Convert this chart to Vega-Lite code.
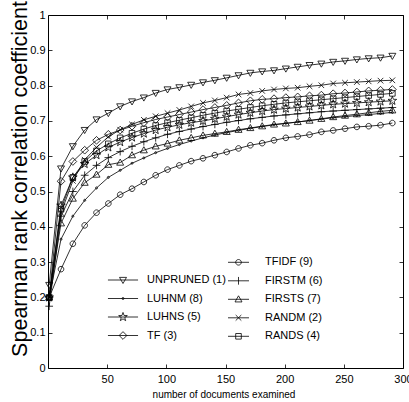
{
"$schema":"https://vega.github.io/schema/vega-lite/v6.json",
"width":355,"height":353,
"autosize":{"type":"none"},
"padding":{"left":48,"top":15,"right":6,"bottom":34},
"background":"white",
"config":{
 "view":{"stroke":"black","strokeWidth":1},
 "font":"Liberation Sans",
 "axis":{"grid":false,"domain":false,"labelFont":"Liberation Sans","labelFontSize":11,"labelColor":"black","tickColor":"black","tickWidth":0.8,"titleColor":"black","titleFont":"Liberation Sans","titleFontWeight":"normal","tickSize":-4},
 "legend":{"padding":0,"labelFont":"Liberation Sans","labelFontSize":11,"labelColor":"black","symbolSize":49,"symbolStrokeWidth":0.8,"rowPadding":6.5}
},
"datasets":{"d":[
{"s":"UNPRUNED (1)","g":"A","x":1,"y":0.235},{"s":"UNPRUNED (1)","g":"A","x":11,"y":0.565},{"s":"UNPRUNED (1)","g":"A","x":21,"y":0.628},{"s":"UNPRUNED (1)","g":"A","x":31,"y":0.674},{"s":"UNPRUNED (1)","g":"A","x":41,"y":0.704},{"s":"UNPRUNED (1)","g":"A","x":51,"y":0.722},{"s":"UNPRUNED (1)","g":"A","x":61,"y":0.741},{"s":"UNPRUNED (1)","g":"A","x":71,"y":0.755},{"s":"UNPRUNED (1)","g":"A","x":81,"y":0.766},{"s":"UNPRUNED (1)","g":"A","x":91,"y":0.779},{"s":"UNPRUNED (1)","g":"A","x":101,"y":0.789},{"s":"UNPRUNED (1)","g":"A","x":111,"y":0.795},{"s":"UNPRUNED (1)","g":"A","x":121,"y":0.802},{"s":"UNPRUNED (1)","g":"A","x":131,"y":0.809},{"s":"UNPRUNED (1)","g":"A","x":141,"y":0.815},{"s":"UNPRUNED (1)","g":"A","x":151,"y":0.822},{"s":"UNPRUNED (1)","g":"A","x":161,"y":0.829},{"s":"UNPRUNED (1)","g":"A","x":171,"y":0.836},{"s":"UNPRUNED (1)","g":"A","x":181,"y":0.840},{"s":"UNPRUNED (1)","g":"A","x":191,"y":0.843},{"s":"UNPRUNED (1)","g":"A","x":201,"y":0.848},{"s":"UNPRUNED (1)","g":"A","x":211,"y":0.853},{"s":"UNPRUNED (1)","g":"A","x":221,"y":0.858},{"s":"UNPRUNED (1)","g":"A","x":231,"y":0.862},{"s":"UNPRUNED (1)","g":"A","x":241,"y":0.867},{"s":"UNPRUNED (1)","g":"A","x":251,"y":0.870},{"s":"UNPRUNED (1)","g":"A","x":261,"y":0.874},{"s":"UNPRUNED (1)","g":"A","x":271,"y":0.877},{"s":"UNPRUNED (1)","g":"A","x":281,"y":0.879},{"s":"UNPRUNED (1)","g":"A","x":291,"y":0.884},
{"s":"LUHNM (8)","g":"A","x":1,"y":0.2},{"s":"LUHNM (8)","g":"A","x":11,"y":0.365},{"s":"LUHNM (8)","g":"A","x":21,"y":0.43},{"s":"LUHNM (8)","g":"A","x":31,"y":0.475},{"s":"LUHNM (8)","g":"A","x":41,"y":0.51},{"s":"LUHNM (8)","g":"A","x":51,"y":0.54},{"s":"LUHNM (8)","g":"A","x":61,"y":0.56},{"s":"LUHNM (8)","g":"A","x":71,"y":0.58},{"s":"LUHNM (8)","g":"A","x":81,"y":0.595},{"s":"LUHNM (8)","g":"A","x":91,"y":0.61},{"s":"LUHNM (8)","g":"A","x":101,"y":0.622},{"s":"LUHNM (8)","g":"A","x":111,"y":0.633},{"s":"LUHNM (8)","g":"A","x":121,"y":0.643},{"s":"LUHNM (8)","g":"A","x":131,"y":0.652},{"s":"LUHNM (8)","g":"A","x":141,"y":0.66},{"s":"LUHNM (8)","g":"A","x":151,"y":0.667},{"s":"LUHNM (8)","g":"A","x":161,"y":0.673},{"s":"LUHNM (8)","g":"A","x":171,"y":0.679},{"s":"LUHNM (8)","g":"A","x":181,"y":0.684},{"s":"LUHNM (8)","g":"A","x":191,"y":0.689},{"s":"LUHNM (8)","g":"A","x":201,"y":0.693},{"s":"LUHNM (8)","g":"A","x":211,"y":0.697},{"s":"LUHNM (8)","g":"A","x":221,"y":0.701},{"s":"LUHNM (8)","g":"A","x":231,"y":0.705},{"s":"LUHNM (8)","g":"A","x":241,"y":0.709},{"s":"LUHNM (8)","g":"A","x":251,"y":0.712},{"s":"LUHNM (8)","g":"A","x":261,"y":0.715},{"s":"LUHNM (8)","g":"A","x":271,"y":0.718},{"s":"LUHNM (8)","g":"A","x":281,"y":0.721},{"s":"LUHNM (8)","g":"A","x":291,"y":0.724},
{"s":"LUHNS (5)","g":"A","x":1,"y":0.2},{"s":"LUHNS (5)","g":"A","x":11,"y":0.46},{"s":"LUHNS (5)","g":"A","x":21,"y":0.54},{"s":"LUHNS (5)","g":"A","x":31,"y":0.578},{"s":"LUHNS (5)","g":"A","x":41,"y":0.603},{"s":"LUHNS (5)","g":"A","x":51,"y":0.625},{"s":"LUHNS (5)","g":"A","x":61,"y":0.64},{"s":"LUHNS (5)","g":"A","x":71,"y":0.653},{"s":"LUHNS (5)","g":"A","x":81,"y":0.664},{"s":"LUHNS (5)","g":"A","x":91,"y":0.674},{"s":"LUHNS (5)","g":"A","x":101,"y":0.682},{"s":"LUHNS (5)","g":"A","x":111,"y":0.689},{"s":"LUHNS (5)","g":"A","x":121,"y":0.695},{"s":"LUHNS (5)","g":"A","x":131,"y":0.700},{"s":"LUHNS (5)","g":"A","x":141,"y":0.706},{"s":"LUHNS (5)","g":"A","x":151,"y":0.712},{"s":"LUHNS (5)","g":"A","x":161,"y":0.718},{"s":"LUHNS (5)","g":"A","x":171,"y":0.723},{"s":"LUHNS (5)","g":"A","x":181,"y":0.728},{"s":"LUHNS (5)","g":"A","x":191,"y":0.732},{"s":"LUHNS (5)","g":"A","x":201,"y":0.735},{"s":"LUHNS (5)","g":"A","x":211,"y":0.738},{"s":"LUHNS (5)","g":"A","x":221,"y":0.741},{"s":"LUHNS (5)","g":"A","x":231,"y":0.744},{"s":"LUHNS (5)","g":"A","x":241,"y":0.747},{"s":"LUHNS (5)","g":"A","x":251,"y":0.749},{"s":"LUHNS (5)","g":"A","x":261,"y":0.751},{"s":"LUHNS (5)","g":"A","x":271,"y":0.753},{"s":"LUHNS (5)","g":"A","x":281,"y":0.755},{"s":"LUHNS (5)","g":"A","x":291,"y":0.757},
{"s":"TF (3)","g":"A","x":1,"y":0.2},{"s":"TF (3)","g":"A","x":11,"y":0.529},{"s":"TF (3)","g":"A","x":21,"y":0.585},{"s":"TF (3)","g":"A","x":31,"y":0.617},{"s":"TF (3)","g":"A","x":41,"y":0.645},{"s":"TF (3)","g":"A","x":51,"y":0.662},{"s":"TF (3)","g":"A","x":61,"y":0.674},{"s":"TF (3)","g":"A","x":71,"y":0.685},{"s":"TF (3)","g":"A","x":81,"y":0.695},{"s":"TF (3)","g":"A","x":91,"y":0.704},{"s":"TF (3)","g":"A","x":101,"y":0.711},{"s":"TF (3)","g":"A","x":111,"y":0.718},{"s":"TF (3)","g":"A","x":121,"y":0.725},{"s":"TF (3)","g":"A","x":131,"y":0.732},{"s":"TF (3)","g":"A","x":141,"y":0.738},{"s":"TF (3)","g":"A","x":151,"y":0.744},{"s":"TF (3)","g":"A","x":161,"y":0.751},{"s":"TF (3)","g":"A","x":171,"y":0.757},{"s":"TF (3)","g":"A","x":181,"y":0.761},{"s":"TF (3)","g":"A","x":191,"y":0.763},{"s":"TF (3)","g":"A","x":201,"y":0.766},{"s":"TF (3)","g":"A","x":211,"y":0.768},{"s":"TF (3)","g":"A","x":221,"y":0.771},{"s":"TF (3)","g":"A","x":231,"y":0.773},{"s":"TF (3)","g":"A","x":241,"y":0.777},{"s":"TF (3)","g":"A","x":251,"y":0.779},{"s":"TF (3)","g":"A","x":261,"y":0.782},{"s":"TF (3)","g":"A","x":271,"y":0.785},{"s":"TF (3)","g":"A","x":281,"y":0.787},{"s":"TF (3)","g":"A","x":291,"y":0.789},
{"s":"TFIDF (9)","g":"B","x":1,"y":0.2},{"s":"TFIDF (9)","g":"B","x":11,"y":0.28},{"s":"TFIDF (9)","g":"B","x":21,"y":0.352},{"s":"TFIDF (9)","g":"B","x":31,"y":0.404},{"s":"TFIDF (9)","g":"B","x":41,"y":0.44},{"s":"TFIDF (9)","g":"B","x":51,"y":0.466},{"s":"TFIDF (9)","g":"B","x":61,"y":0.491},{"s":"TFIDF (9)","g":"B","x":71,"y":0.508},{"s":"TFIDF (9)","g":"B","x":81,"y":0.527},{"s":"TFIDF (9)","g":"B","x":91,"y":0.546},{"s":"TFIDF (9)","g":"B","x":101,"y":0.562},{"s":"TFIDF (9)","g":"B","x":111,"y":0.574},{"s":"TFIDF (9)","g":"B","x":121,"y":0.586},{"s":"TFIDF (9)","g":"B","x":131,"y":0.594},{"s":"TFIDF (9)","g":"B","x":141,"y":0.603},{"s":"TFIDF (9)","g":"B","x":151,"y":0.612},{"s":"TFIDF (9)","g":"B","x":161,"y":0.622},{"s":"TFIDF (9)","g":"B","x":171,"y":0.631},{"s":"TFIDF (9)","g":"B","x":181,"y":0.637},{"s":"TFIDF (9)","g":"B","x":191,"y":0.645},{"s":"TFIDF (9)","g":"B","x":201,"y":0.652},{"s":"TFIDF (9)","g":"B","x":211,"y":0.656},{"s":"TFIDF (9)","g":"B","x":221,"y":0.661},{"s":"TFIDF (9)","g":"B","x":231,"y":0.669},{"s":"TFIDF (9)","g":"B","x":241,"y":0.673},{"s":"TFIDF (9)","g":"B","x":251,"y":0.678},{"s":"TFIDF (9)","g":"B","x":261,"y":0.683},{"s":"TFIDF (9)","g":"B","x":271,"y":0.685},{"s":"TFIDF (9)","g":"B","x":281,"y":0.688},{"s":"TFIDF (9)","g":"B","x":291,"y":0.694},
{"s":"FIRSTM (6)","g":"B","x":1,"y":0.175},{"s":"FIRSTM (6)","g":"B","x":11,"y":0.43},{"s":"FIRSTM (6)","g":"B","x":21,"y":0.50},{"s":"FIRSTM (6)","g":"B","x":31,"y":0.546},{"s":"FIRSTM (6)","g":"B","x":41,"y":0.574},{"s":"FIRSTM (6)","g":"B","x":51,"y":0.596},{"s":"FIRSTM (6)","g":"B","x":61,"y":0.613},{"s":"FIRSTM (6)","g":"B","x":71,"y":0.628},{"s":"FIRSTM (6)","g":"B","x":81,"y":0.641},{"s":"FIRSTM (6)","g":"B","x":91,"y":0.652},{"s":"FIRSTM (6)","g":"B","x":101,"y":0.662},{"s":"FIRSTM (6)","g":"B","x":111,"y":0.670},{"s":"FIRSTM (6)","g":"B","x":121,"y":0.677},{"s":"FIRSTM (6)","g":"B","x":131,"y":0.684},{"s":"FIRSTM (6)","g":"B","x":141,"y":0.690},{"s":"FIRSTM (6)","g":"B","x":151,"y":0.696},{"s":"FIRSTM (6)","g":"B","x":161,"y":0.701},{"s":"FIRSTM (6)","g":"B","x":171,"y":0.706},{"s":"FIRSTM (6)","g":"B","x":181,"y":0.710},{"s":"FIRSTM (6)","g":"B","x":191,"y":0.714},{"s":"FIRSTM (6)","g":"B","x":201,"y":0.717},{"s":"FIRSTM (6)","g":"B","x":211,"y":0.720},{"s":"FIRSTM (6)","g":"B","x":221,"y":0.723},{"s":"FIRSTM (6)","g":"B","x":231,"y":0.726},{"s":"FIRSTM (6)","g":"B","x":241,"y":0.728},{"s":"FIRSTM (6)","g":"B","x":251,"y":0.730},{"s":"FIRSTM (6)","g":"B","x":261,"y":0.732},{"s":"FIRSTM (6)","g":"B","x":271,"y":0.734},{"s":"FIRSTM (6)","g":"B","x":281,"y":0.736},{"s":"FIRSTM (6)","g":"B","x":291,"y":0.738},
{"s":"FIRSTS (7)","g":"B","x":1,"y":0.2},{"s":"FIRSTS (7)","g":"B","x":11,"y":0.41},{"s":"FIRSTS (7)","g":"B","x":21,"y":0.48},{"s":"FIRSTS (7)","g":"B","x":31,"y":0.525},{"s":"FIRSTS (7)","g":"B","x":41,"y":0.548},{"s":"FIRSTS (7)","g":"B","x":51,"y":0.576},{"s":"FIRSTS (7)","g":"B","x":61,"y":0.582},{"s":"FIRSTS (7)","g":"B","x":71,"y":0.603},{"s":"FIRSTS (7)","g":"B","x":81,"y":0.617},{"s":"FIRSTS (7)","g":"B","x":91,"y":0.628},{"s":"FIRSTS (7)","g":"B","x":101,"y":0.636},{"s":"FIRSTS (7)","g":"B","x":111,"y":0.645},{"s":"FIRSTS (7)","g":"B","x":121,"y":0.652},{"s":"FIRSTS (7)","g":"B","x":131,"y":0.659},{"s":"FIRSTS (7)","g":"B","x":141,"y":0.664},{"s":"FIRSTS (7)","g":"B","x":151,"y":0.669},{"s":"FIRSTS (7)","g":"B","x":161,"y":0.675},{"s":"FIRSTS (7)","g":"B","x":171,"y":0.680},{"s":"FIRSTS (7)","g":"B","x":181,"y":0.685},{"s":"FIRSTS (7)","g":"B","x":191,"y":0.690},{"s":"FIRSTS (7)","g":"B","x":201,"y":0.693},{"s":"FIRSTS (7)","g":"B","x":211,"y":0.697},{"s":"FIRSTS (7)","g":"B","x":221,"y":0.701},{"s":"FIRSTS (7)","g":"B","x":231,"y":0.706},{"s":"FIRSTS (7)","g":"B","x":241,"y":0.711},{"s":"FIRSTS (7)","g":"B","x":251,"y":0.715},{"s":"FIRSTS (7)","g":"B","x":261,"y":0.719},{"s":"FIRSTS (7)","g":"B","x":271,"y":0.723},{"s":"FIRSTS (7)","g":"B","x":281,"y":0.727},{"s":"FIRSTS (7)","g":"B","x":291,"y":0.730},
{"s":"RANDM (2)","g":"B","x":1,"y":0.2},{"s":"RANDM (2)","g":"B","x":11,"y":0.44},{"s":"RANDM (2)","g":"B","x":21,"y":0.53},{"s":"RANDM (2)","g":"B","x":31,"y":0.59},{"s":"RANDM (2)","g":"B","x":41,"y":0.625},{"s":"RANDM (2)","g":"B","x":51,"y":0.655},{"s":"RANDM (2)","g":"B","x":61,"y":0.675},{"s":"RANDM (2)","g":"B","x":71,"y":0.69},{"s":"RANDM (2)","g":"B","x":81,"y":0.703},{"s":"RANDM (2)","g":"B","x":91,"y":0.713},{"s":"RANDM (2)","g":"B","x":101,"y":0.722},{"s":"RANDM (2)","g":"B","x":111,"y":0.731},{"s":"RANDM (2)","g":"B","x":121,"y":0.741},{"s":"RANDM (2)","g":"B","x":131,"y":0.751},{"s":"RANDM (2)","g":"B","x":141,"y":0.758},{"s":"RANDM (2)","g":"B","x":151,"y":0.766},{"s":"RANDM (2)","g":"B","x":161,"y":0.775},{"s":"RANDM (2)","g":"B","x":171,"y":0.779},{"s":"RANDM (2)","g":"B","x":181,"y":0.785},{"s":"RANDM (2)","g":"B","x":191,"y":0.789},{"s":"RANDM (2)","g":"B","x":201,"y":0.792},{"s":"RANDM (2)","g":"B","x":211,"y":0.794},{"s":"RANDM (2)","g":"B","x":221,"y":0.798},{"s":"RANDM (2)","g":"B","x":231,"y":0.801},{"s":"RANDM (2)","g":"B","x":241,"y":0.806},{"s":"RANDM (2)","g":"B","x":251,"y":0.808},{"s":"RANDM (2)","g":"B","x":261,"y":0.810},{"s":"RANDM (2)","g":"B","x":271,"y":0.812},{"s":"RANDM (2)","g":"B","x":281,"y":0.814},{"s":"RANDM (2)","g":"B","x":291,"y":0.815},
{"s":"RANDS (4)","g":"B","x":1,"y":0.2},{"s":"RANDS (4)","g":"B","x":11,"y":0.45},{"s":"RANDS (4)","g":"B","x":21,"y":0.54},{"s":"RANDS (4)","g":"B","x":31,"y":0.585},{"s":"RANDS (4)","g":"B","x":41,"y":0.615},{"s":"RANDS (4)","g":"B","x":51,"y":0.635},{"s":"RANDS (4)","g":"B","x":61,"y":0.652},{"s":"RANDS (4)","g":"B","x":71,"y":0.665},{"s":"RANDS (4)","g":"B","x":81,"y":0.677},{"s":"RANDS (4)","g":"B","x":91,"y":0.687},{"s":"RANDS (4)","g":"B","x":101,"y":0.695},{"s":"RANDS (4)","g":"B","x":111,"y":0.702},{"s":"RANDS (4)","g":"B","x":121,"y":0.709},{"s":"RANDS (4)","g":"B","x":131,"y":0.716},{"s":"RANDS (4)","g":"B","x":141,"y":0.722},{"s":"RANDS (4)","g":"B","x":151,"y":0.728},{"s":"RANDS (4)","g":"B","x":161,"y":0.733},{"s":"RANDS (4)","g":"B","x":171,"y":0.738},{"s":"RANDS (4)","g":"B","x":181,"y":0.743},{"s":"RANDS (4)","g":"B","x":191,"y":0.747},{"s":"RANDS (4)","g":"B","x":201,"y":0.751},{"s":"RANDS (4)","g":"B","x":211,"y":0.754},{"s":"RANDS (4)","g":"B","x":221,"y":0.757},{"s":"RANDS (4)","g":"B","x":231,"y":0.760},{"s":"RANDS (4)","g":"B","x":241,"y":0.763},{"s":"RANDS (4)","g":"B","x":251,"y":0.766},{"s":"RANDS (4)","g":"B","x":261,"y":0.769},{"s":"RANDS (4)","g":"B","x":271,"y":0.772},{"s":"RANDS (4)","g":"B","x":281,"y":0.775},{"s":"RANDS (4)","g":"B","x":291,"y":0.778}
]},
"data":{"name":"d"},
"layer":[
 {"transform":[{"filter":"datum.g === 'A'"}],
  "resolve":{"scale":{"shape":"independent"}},
  "layer":[
   {"mark":{"type":"line","stroke":"black","strokeWidth":0.8},
    "encoding":{
     "x":{"field":"x","type":"quantitative","scale":{"domain":[0,300],"nice":false,"zero":false},"axis":{"values":[50,100,150,200,250,300],"labelFlush":false,"labelOverlap":false,"labelPadding":9,"title":"number of documents examined","titleFontSize":10,"titleX":175.5,"titleY":29,"titleAlign":"center","titleBaseline":"alphabetic"}},
     "y":{"field":"y","type":"quantitative","scale":{"domain":[0,1],"nice":false},"axis":{"values":[0,0.1,0.2,0.3,0.4,0.5,0.6,0.7,0.8,0.9,1],"format":".1~f","labelPadding":7,"title":"Spearman rank correlation coefficient","titleFontSize":21.5,"titleAngle":-90,"titleX":-22,"titleY":163.5,"titleAlign":"center","titleBaseline":"alphabetic"}},
     "detail":{"field":"s"}}},
   {"mark":{"type":"point","size":49,"filled":false,"stroke":"black","strokeWidth":0.8,"opacity":1},
    "encoding":{
     "x":{"field":"x","type":"quantitative","axis":{"values":[50,100,150,200,250,300],"labelFlush":false,"labelOverlap":false,"labelPadding":9,"title":"number of documents examined","titleFontSize":10,"titleX":175.5,"titleY":29,"titleAlign":"center","titleBaseline":"alphabetic"}},
     "y":{"field":"y","type":"quantitative","axis":{"values":[0,0.1,0.2,0.3,0.4,0.5,0.6,0.7,0.8,0.9,1],"format":".1~f","labelPadding":7,"title":"Spearman rank correlation coefficient","titleFontSize":21.5,"titleAngle":-90,"titleX":-22,"titleY":163.5,"titleAlign":"center","titleBaseline":"alphabetic"}},
     "shape":{"field":"s","type":"nominal","scale":{"domain":["TF (3)","LUHNS (5)","LUHNM (8)","UNPRUNED (1)"],"range":["M0,-1.1L1.1,0L0,1.1L-1.1,0Z","M0,-1.3L0.305,-0.421L1.236,-0.402L0.494,0.161L0.764,1.052L0,0.52L-0.764,1.052L-0.494,0.161L-1.236,-0.402L-0.305,-0.421Z","M-0.3,0A0.3,0.3 0 1,0 0.3,0A0.3,0.3 0 1,0 -0.3,0Z","M-1,-0.75L1,-0.75L0,1Z"]},"legend":null}
   }},
   {"transform":[{"filter":"false"}],
    "mark":{"type":"point","size":49,"filled":false,"stroke":"black","strokeWidth":0.8,"opacity":1},
    "encoding":{
     "x":{"field":"x","type":"quantitative","axis":{"values":[50,100,150,200,250,300],"labelFlush":false,"labelOverlap":false,"labelPadding":9,"title":"number of documents examined","titleFontSize":10,"titleX":175.5,"titleY":29,"titleAlign":"center","titleBaseline":"alphabetic"}},
     "y":{"field":"y","type":"quantitative","axis":{"values":[0,0.1,0.2,0.3,0.4,0.5,0.6,0.7,0.8,0.9,1],"format":".1~f","labelPadding":7,"title":"Spearman rank correlation coefficient","titleFontSize":21.5,"titleAngle":-90,"titleX":-22,"titleY":163.5,"titleAlign":"center","titleBaseline":"alphabetic"}},
     "shape":{"field":"s","type":"nominal","scale":{"domain":["UNPRUNED (1)","LUHNM (8)","LUHNS (5)","TF (3)"],"range":["M-4.3,0L4.3,0M-1,-0.75L1,-0.75L0,1Z","M-4.3,0L4.3,0M-0.3,0A0.3,0.3 0 1,0 0.3,0A0.3,0.3 0 1,0 -0.3,0Z","M-4.3,0L4.3,0M0,-1.3L0.305,-0.421L1.236,-0.402L0.494,0.161L0.764,1.052L0,0.52L-0.764,1.052L-0.494,0.161L-1.236,-0.402L-0.305,-0.421Z","M-4.3,0L4.3,0M0,-1.1L1.1,0L0,1.1L-1.1,0Z"]},
      "legend":{"orient":"none","legendX":69.5,"legendY":259.5,"title":null,"labelOffset":18.5,"symbolSize":49,"symbolStrokeColor":"black","symbolStrokeWidth":0.8}}
   }}
  ]},
 {"transform":[{"filter":"datum.g === 'B'"}],
  "resolve":{"scale":{"shape":"independent"}},
  "layer":[
   {"mark":{"type":"line","stroke":"black","strokeWidth":0.8},
    "encoding":{
     "x":{"field":"x","type":"quantitative","axis":{"orient":"top","values":[50,100,150,200,250,300],"labels":false,"title":null}},
     "y":{"field":"y","type":"quantitative","axis":{"orient":"right","values":[0,0.1,0.2,0.3,0.4,0.5,0.6,0.7,0.8,0.9,1],"labels":false,"title":null}},
     "detail":{"field":"s"}}},
   {"mark":{"type":"point","size":49,"filled":false,"stroke":"black","strokeWidth":0.8,"opacity":1},
    "encoding":{
     "x":{"field":"x","type":"quantitative","axis":{"orient":"top","values":[50,100,150,200,250,300],"labels":false,"title":null}},
     "y":{"field":"y","type":"quantitative","axis":{"orient":"right","values":[0,0.1,0.2,0.3,0.4,0.5,0.6,0.7,0.8,0.9,1],"labels":false,"title":null}},
     "shape":{"field":"s","type":"nominal","scale":{"domain":["RANDS (4)","RANDM (2)","FIRSTS (7)","FIRSTM (6)","TFIDF (9)"],"range":["M-0.8,-0.8L0.8,-0.8L0.8,0.8L-0.8,0.8Z","M-0.8,-0.8L0.8,0.8M-0.8,0.8L0.8,-0.8","M-1,0.75L1,0.75L0,-1Z","M-1.1,0L1.1,0M0,-1.1L0,1.1","M-0.8,0A0.8,0.8 0 1,0 0.8,0A0.8,0.8 0 1,0 -0.8,0Z"]},"legend":null}
   }},
   {"transform":[{"filter":"false"}],
    "mark":{"type":"point","size":49,"filled":false,"stroke":"black","strokeWidth":0.8,"opacity":1},
    "encoding":{
     "x":{"field":"x","type":"quantitative","axis":{"orient":"top","values":[50,100,150,200,250,300],"labels":false,"title":null}},
     "y":{"field":"y","type":"quantitative","axis":{"orient":"right","values":[0,0.1,0.2,0.3,0.4,0.5,0.6,0.7,0.8,0.9,1],"labels":false,"title":null}},
     "shape":{"field":"s","type":"nominal","scale":{"domain":["TFIDF (9)","FIRSTM (6)","FIRSTS (7)","RANDM (2)","RANDS (4)"],"range":["M-3,0L3,0M-0.8,0A0.8,0.8 0 1,0 0.8,0A0.8,0.8 0 1,0 -0.8,0Z","M-3,0L3,0M0,-1.1L0,1.1","M-3,0L3,0M-1,0.75L1,0.75L0,-1Z","M-3,0L3,0M-0.8,-0.8L0.8,0.8M-0.8,0.8L0.8,-0.8","M-3,0L3,0M-0.8,-0.8L0.8,-0.8L0.8,0.8L-0.8,0.8Z"]},
      "legend":{"orient":"none","legendX":185,"legendY":241.8,"title":null,"labelOffset":21,"symbolSize":49,"symbolStrokeColor":"black","symbolStrokeWidth":0.8}}
   }}
  ]}
],
"resolve":{"scale":{"shape":"independent"},"axis":{"x":"independent","y":"independent"}}
}
